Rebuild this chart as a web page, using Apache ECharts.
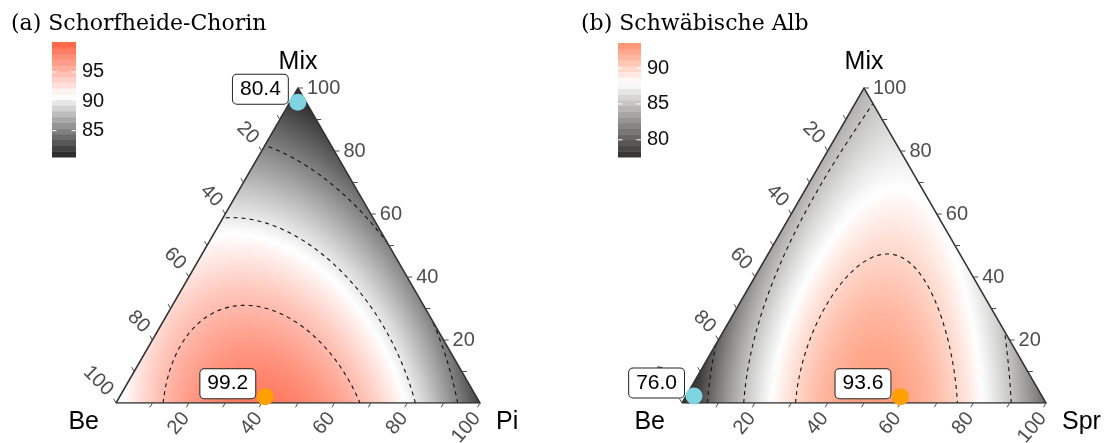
<!DOCTYPE html>
<html><head><meta charset="utf-8">
<script src="https://cdn.jsdelivr.net/npm/echarts@6/dist/echarts.min.js"></script>
<style>html,body{margin:0;padding:0;background:#fff}#c{width:1109px;height:443px}</style>
</head><body><div id="c"></div>
<script>
// ---------------- data ----------------
const titleA = '(a) Schorfheide-Chorin';
const titleB = '(b) Schwäbische Alb';
const namesA = ['Be', 'Pi', 'Mix'];
const namesB = ['Be', 'Spr', 'Mix'];
const axisTicks = [10, 20, 30, 40, 50, 60, 70, 80, 90, 100];
const axisTickLabels = [20, 40, 60, 80, 100];

// observations of the fitted surface: right-corner share %, Mix share %, value
const obsA_right = [0, 100, 0, 14.3, 40, 65.7, 82.6, 95, 0, 0, 0, 49, 72, 60, 12, 25.3, 39.8, 9.6, 19.4, 38, 53.1, 66.7, 9.2, 9.4, 13.7, 18.9, 28.5, 41.3, 52.9];
const obsA_mix   = [0, 0, 100, 0, 0, 0, 0, 0, 82.4, 57, 30, 51, 28, 40, 77.1, 68.7, 58.1, 58.1, 54.9, 43.3, 31.6, 18.9, 16.8, 27.4, 31.6, 32.2, 29.5, 22.1, 13.7];
const obsA_val   = [90.3, 81.5, 80.4, 95, 99.2, 95, 90, 85, 85, 90, 93, 85, 85, 85.6, 85, 85, 85, 90, 90, 90, 90, 90, 95, 95, 95, 95, 95, 95, 95];

const obsB_right = [0, 100, 0, 6.7, 18, 32.3, 59, 75.3, 88.3, 0, 0, 0, 76.2, 7, 50, 7.5, 4, 3.5, 2.6, 3, 23.9, 25, 27.4, 30.7, 33.9, 40.4, 50.7, 61.6, 3.5];
const obsB_mix   = [0, 0, 100, 0, 0, 0, 0, 0, 0, 20, 50, 75, 23.8, 93, 50, 24.4, 40.3, 56.2, 68.9, 82.7, 24.4, 35, 41.3, 45.6, 46.6, 44.5, 35, 22.3, 10];
const obsB_val   = [76.0, 81, 84.3, 80, 85, 90, 93.6, 90, 85, 80, 82.8, 83.8, 85, 85, 88, 85, 85, 85, 85, 85, 90, 90, 90, 90, 90, 90, 90, 90, 80];

const contourLevelsA = [85, 90, 95];
const contourLevelsB = [80, 85, 90];

// highlighted points: right share %, Mix share %, value
const markA_right = [2.2, 40];
const markA_mix   = [95.5, 2];
const markA_val   = [80.4, 99.2];
const markB_right = [2.2, 59];
const markB_mix   = [2.2, 2];
const markB_val   = [76.0, 93.6];

// colour bars
const barRangeA = [81.0, 99.6];
const barRangeB = [78.0, 93.1];
const barMidA = 91;
const barMidB = 88;
const barTicksA = [85, 90, 95];
const barTicksB = [80, 85, 90];

// ---------------- model fit (Scheffé cubic mixture model) ----------------
function basis(b, p, m) {
  return [b, p, m, b*p, b*m, p*m, b*p*(b-p), b*m*(b-m), p*m*(p-m), b*p*m];
}
function solve(A, y) {
  const n = y.length;
  for (let c = 0; c < n; c++) {
    let piv = c;
    for (let r = c+1; r < n; r++) if (Math.abs(A[r][c]) > Math.abs(A[piv][c])) piv = r;
    [A[c], A[piv]] = [A[piv], A[c]]; [y[c], y[piv]] = [y[piv], y[c]];
    for (let r = c+1; r < n; r++) {
      const f = A[r][c] / A[c][c];
      for (let k = c; k < n; k++) A[r][k] -= f * A[c][k];
      y[r] -= f * y[c];
    }
  }
  const x = new Array(n).fill(0);
  for (let r = n-1; r >= 0; r--) {
    let s = y[r];
    for (let k = r+1; k < n; k++) s -= A[r][k] * x[k];
    x[r] = s / A[r][r];
  }
  return x;
}
function fitModel(R, M, V) {
  const n = 10, A = [], y = [];
  for (let j = 0; j < n; j++) { A.push(new Array(n).fill(0)); y.push(0); }
  for (let i = 0; i < R.length; i++) {
    const p = R[i]/100, m = M[i]/100, b = 1-p-m, t = basis(b, p, m);
    for (let j = 0; j < n; j++) {
      y[j] += t[j] * V[i];
      for (let k = 0; k < n; k++) A[j][k] += t[j] * t[k];
    }
  }
  for (let j = 0; j < n; j++) A[j][j] += 1e-9;
  const coef = solve(A, y);
  return (p, m) => { const t = basis(1-p-m, p, m); let s = 0; for (let j = 0; j < n; j++) s += coef[j]*t[j]; return s; };
}

// ternary -> plane (percent units): x = right + mix/2, y = mix
const toXY = (r, m) => [r + m/2, m];

// contour lines by marching triangles
const N = 90;
function buildContours(f, levels) {
  const id = (i, k) => i*(N+1) + k;
  const vv = [], pos = [];
  for (let i = 0; i <= N; i++) for (let k = 0; k <= N-i; k++) {
    vv[id(i,k)] = f(k/N, i/N);
    pos[id(i,k)] = toXY(100*k/N, 100*i/N);
  }
  const tris = [];
  for (let i = 0; i < N; i++) for (let k = 0; k < N-i; k++) {
    tris.push([id(i,k), id(i,k+1), id(i+1,k)]);
    if (k < N-1-i) tris.push([id(i,k+1), id(i+1,k+1), id(i+1,k)]);
  }
  const lines = [];
  levels.forEach(L => {
    const keyPt = {}, adj = {}, segs = [];
    tris.forEach(t => {
      const crossings = [];
      for (let e = 0; e < 3; e++) {
        let a = t[e], b = t[(e+1)%3];
        if ((vv[a] >= L) !== (vv[b] >= L)) {
          if (a > b) [a, b] = [b, a];
          const key = a + '_' + b;
          if (!keyPt[key]) {
            const s = (L - vv[a]) / (vv[b] - vv[a]);
            keyPt[key] = [pos[a][0] + s*(pos[b][0]-pos[a][0]), pos[a][1] + s*(pos[b][1]-pos[a][1])];
          }
          crossings.push(key);
        }
      }
      if (crossings.length === 2) {
        const si = segs.length; segs.push(crossings);
        crossings.forEach(k => { (adj[k] = adj[k] || []).push(si); });
      }
    });
    const used = new Array(segs.length).fill(false);
    const walk = (startKey) => {
      const pts = [keyPt[startKey]];
      let key = startKey;
      while (true) {
        const nxt = (adj[key] || []).find(s => !used[s]);
        if (nxt === undefined) break;
        used[nxt] = true;
        key = segs[nxt][0] === key ? segs[nxt][1] : segs[nxt][0];
        pts.push(keyPt[key]);
      }
      if (pts.length > 1) lines.push({ coords: pts });
    };
    Object.keys(adj).forEach(k => { if (adj[k].length === 1 && !used[adj[k][0]]) walk(k); });
    segs.forEach((s, i) => { if (!used[i]) walk(s[0]); });
  });
  return lines;
}

// horizontal strips of the triangle, each with the surface values along it
const ROWS = 210, STOPS = 64;
function buildRows(f) {
  const rows = [];
  for (let i = 0; i < ROWS; i++) {
    const m0 = 100*i/ROWS, m1 = 100*(i+1)/ROWS, mc = (m0+m1)/2;
    const vals = [];
    for (let j = 0; j < STOPS; j++) vals.push(f((100-mc)/100 * j/(STOPS-1), mc/100));
    rows.push({ m0, m1, mc, vals });
  }
  return rows;
}

function makeScale(lo, mid, hi, cLo, cMid, cHi) {
  return v => {
    if (v <= mid) return echarts.color.lerp(Math.max(0, (v-lo)/(mid-lo)), [cLo, cMid]);
    return echarts.color.lerp(Math.min(1, (v-mid)/(hi-mid)), [cMid, cHi]);
  };
}

const fA = fitModel(obsA_right, obsA_mix, obsA_val);
const fB = fitModel(obsB_right, obsB_mix, obsB_val);
const surfA = { rows: buildRows(fA), lines: buildContours(fA, contourLevelsA) };
const surfB = { rows: buildRows(fB), lines: buildContours(fB, contourLevelsB) };
const colA = makeScale(barRangeA[0], barMidA, barRangeA[1], '#2e2e2e', '#ffffff', '#ff6a4d');
const colB = makeScale(barRangeB[0], barMidB, barRangeB[1], '#393734', '#ffffff', '#ff9878');

// ---------------- series builders ----------------
const SANS = 'Liberation Sans, Arial, sans-serif';
function panelSeries(gi, surf, col, names, mR, mM, mV) {
  const out = [];
  const rows = surf.rows;
  out.push({
    type: 'custom', xAxisIndex: gi, yAxisIndex: gi, data: rows.map(r => [r.mc, r.mc]), clip: false, silent: true,
    progressive: 0, animation: false, z: 1,
    renderItem: (params, api) => {
      const r = rows[params.dataIndex];
      const top = Math.min(100, r.m1 + (r.m1 - r.m0) * 0.4);
      const pts = [api.coord(toXY(0, r.m0)), api.coord(toXY(100 - r.m0, r.m0)),
                   api.coord(toXY(100 - top, top)), api.coord(toXY(0, top))];
      const xa = api.coord(toXY(0, r.mc))[0], xb = api.coord(toXY(100 - r.mc, r.mc))[0];
      const stops = r.vals.map((v, j) => ({ offset: j/(STOPS-1), color: col(v) }));
      return { type: 'polygon', shape: { points: pts },
        style: { fill: { type: 'linear', x: xa, y: 0, x2: xb, y2: 0, global: true, colorStops: stops } } };
    }
  });
  out.push({
    type: 'lines', coordinateSystem: 'cartesian2d', xAxisIndex: gi, yAxisIndex: gi, polyline: true,
    silent: true, animation: false, z: 3, data: surf.lines,
    lineStyle: { color: '#111', width: 1.1, type: [4, 4], opacity: 1 }
  });
  const corners = [toXY(0, 0), toXY(100, 0), toXY(0, 100)];
  out.push({
    type: 'lines', coordinateSystem: 'cartesian2d', xAxisIndex: gi, yAxisIndex: gi, polyline: true,
    silent: true, animation: false, z: 4,
    data: [{ coords: [corners[0], corners[1], corners[2], corners[0]] }],
    lineStyle: { color: '#333', width: 1.5, opacity: 1 }
  });
  const tickItems = [];
  [0, 1, 2].forEach(ai => axisTicks.forEach(v => tickItems.push([ai, v])));
  out.push({
    type: 'custom', xAxisIndex: gi, yAxisIndex: gi, data: tickItems, clip: false, silent: true,
    animation: false, z: 5,
    renderItem: (params, api) => {
      const ai = api.value(0), v = api.value(1);
      let P, dx, dy;
      if (ai === 0) { P = api.coord(toXY(v, 0)); dx = -0.5; dy = 0.866; }
      else if (ai === 1) { P = api.coord(toXY(100 - v, v)); dx = 1; dy = 0; }
      else { P = api.coord(toXY(0, 100 - v)); dx = -0.5; dy = -0.866; }
      const L = 5;
      const ch = [{ type: 'line', shape: { x1: P[0], y1: P[1], x2: P[0] + dx*L, y2: P[1] + dy*L }, style: { stroke: '#4d4d4d', lineWidth: 1 } }];
      if (axisTickLabels.indexOf(v) >= 0) {
        let tx, ty, rot, align;
        if (ai === 0) { tx = P[0] - 3; ty = P[1] + 12; rot = 50*Math.PI/180; align = 'right'; }
        else if (ai === 1) { tx = P[0] + 9; ty = P[1]; rot = 0; align = 'left'; }
        else { tx = P[0] + dx*12; ty = P[1] + dy*12; rot = -45*Math.PI/180; align = 'right'; }
        ch.push({ type: 'text', x: tx, y: ty, rotation: rot,
          style: { text: String(v), fill: '#4d4d4d', fontSize: 20, fontFamily: SANS, align: align, verticalAlign: 'middle' } });
      }
      return { type: 'group', children: ch };
    }
  });
  out.push({
    type: 'custom', xAxisIndex: gi, yAxisIndex: gi, data: [[0], [1], [2]], clip: false, silent: true,
    animation: false, z: 5,
    renderItem: (params, api) => {
      const i = api.value(0);
      const P = api.coord(corners[i]);
      let x = P[0], y = P[1], align = 'center';
      if (i === 0) { x -= 17; y += 19; align = 'right'; }
      else if (i === 1) { x += 16; y += 19; align = 'left'; }
      else { y -= 26; }
      return { type: 'text', x: x, y: y, style: { text: names[i], fill: '#000', fontSize: 25, fontFamily: SANS, align: align, verticalAlign: 'middle' } };
    }
  });
  out.push({
    type: 'scatter', xAxisIndex: gi, yAxisIndex: gi, symbolSize: 17, z: 7, animation: false, silent: true,
    itemStyle: { opacity: 1 },
    data: mR.map((r, i) => ({ value: toXY(r, mM[i]).concat([mV[i]]), itemStyle: { color: i === 0 ? '#7fd4e2' : '#ffa000', opacity: 1 } })),
    label: {
      show: true, position: 'left', distance: 1.5, offset: [0, -13],
      formatter: p => p.value[2].toFixed(1),
      fontSize: 21, fontFamily: SANS, color: '#000', opacity: 1,
      backgroundColor: '#fff', borderColor: '#222', borderWidth: 1, borderRadius: 4, padding: [5, 7, 3, 7]
    }
  });
  return out;
}

function barSeries(gi, range, col, ticks) {
  const nb = 20, step = (range[1] - range[0]) / (nb - 1);
  const bins = []; for (let k = 0; k < nb; k++) bins.push([range[0] + k*step]);
  return [{
    type: 'custom', xAxisIndex: gi, yAxisIndex: gi, data: bins, clip: false, silent: true, animation: false, z: 2,
    renderItem: (params, api) => {
      const c = api.value(0);
      const a = api.coord([0, c + step/2]), b = api.coord([1, c - step/2]);
      const fc = col(c);
      return { type: 'rect', shape: { x: a[0], y: a[1], width: b[0]-a[0], height: b[1]-a[1] + 0.5 }, style: { fill: fc } };
    }
  }, {
    type: 'custom', xAxisIndex: gi, yAxisIndex: gi, data: ticks.map(t => [t]), clip: false, silent: true, animation: false, z: 3,
    renderItem: (params, api) => {
      const a = api.coord([0, api.value(0)]), b = api.coord([1, api.value(0)]);
      return { type: 'group', children: [
        { type: 'line', shape: { x1: a[0], y1: a[1], x2: a[0] + 4.5, y2: a[1] }, style: { stroke: '#fff', lineWidth: 1 } },
        { type: 'line', shape: { x1: b[0] - 4.5, y1: b[1], x2: b[0], y2: b[1] }, style: { stroke: '#fff', lineWidth: 1 } }
      ] };
    }
  }];
}

function barY(gi, range, ticks) {
  const h = (range[1] - range[0]) / 38;
  return { gridIndex: gi, type: 'value', min: range[0] - h, max: range[1] + h, position: 'right',
    axisLine: { show: false }, axisTick: { show: false }, splitLine: { show: false },
    axisLabel: { show: true, customValues: ticks, margin: 6, fontSize: 20, fontFamily: SANS, color: '#111' } };
}

const hidden = (gi, min, max) => ({ gridIndex: gi, type: 'value', min: min, max: max, show: false,
  axisLine: { show: false }, splitLine: { show: false }, axisLabel: { show: false }, axisTick: { show: false } });

const option = {
  animation: false,
  backgroundColor: '#fff',
  title: [
    { text: titleA, left: 11, top: 13, padding: 0, textStyle: { fontFamily: 'DejaVu Serif', fontSize: 22, fontWeight: 'normal', color: '#000' } },
    { text: titleB, left: 581, top: 13, padding: 0, textStyle: { fontFamily: 'DejaVu Serif', fontSize: 22, fontWeight: 'normal', color: '#000' } }
  ],
  grid: [
    { left: 116, top: 88, width: 364, height: 315 },
    { left: 682, top: 88, width: 364, height: 315 },
    { left: 52, top: 42, width: 24, height: 115 },
    { left: 618, top: 43, width: 23, height: 114 }
  ],
  xAxis: [hidden(0, 0, 100), hidden(1, 0, 100), hidden(2, 0, 1), hidden(3, 0, 1)],
  yAxis: [hidden(0, 0, 100), hidden(1, 0, 100), barY(2, barRangeA, barTicksA), barY(3, barRangeB, barTicksB)],
  series: [].concat(
    panelSeries(0, surfA, colA, namesA, markA_right, markA_mix, markA_val),
    panelSeries(1, surfB, colB, namesB, markB_right, markB_mix, markB_val),
    barSeries(2, barRangeA, colA, barTicksA),
    barSeries(3, barRangeB, colB, barTicksB)
  )
};
const chart = echarts.init(document.getElementById('c'));
chart.setOption(option);
</script>
</body></html>
